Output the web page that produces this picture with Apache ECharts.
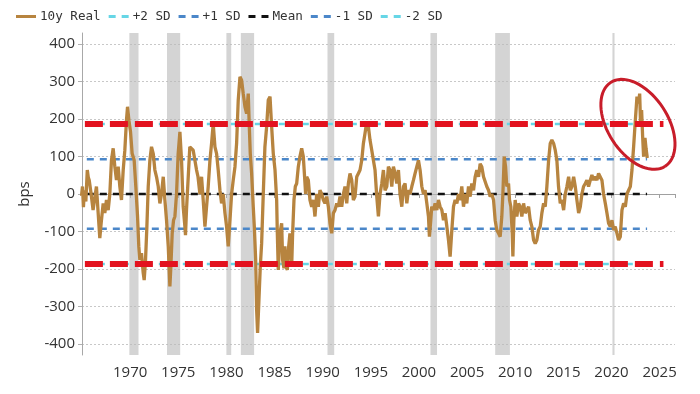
<!DOCTYPE html>
<html><head><meta charset="utf-8">
<script src="https://cdn.jsdelivr.net/npm/echarts@6/dist/echarts.min.js"></script>
<style>html,body{margin:0;padding:0;background:#fff}#c{width:700px;height:394px}</style>
</head><body><div id="c"></div>
<script>
// ---- data ----
const years = [1964.95,1965.05,1965.15,1965.25,1965.4,1965.55,1965.65,1965.75,1965.95,1966.15,1966.5,1966.68,1966.85,1967.02,1967.2,1967.37,1967.54,1967.72,1967.89,1968.06,1968.24,1968.41,1968.58,1968.76,1968.93,1969.1,1969.28,1969.45,1969.62,1969.73,1969.87,1970.04,1970.21,1970.42,1970.59,1970.77,1970.9,1971.01,1971.18,1971.36,1971.46,1971.6,1971.74,1971.88,1972.05,1972.22,1972.4,1972.57,1972.74,1972.92,1973.09,1973.26,1973.44,1973.61,1973.78,1973.96,1974.13,1974.23,1974.37,1974.51,1974.65,1974.82,1974.99,1975.17,1975.34,1975.51,1975.69,1975.75,1975.86,1976.2,1976.55,1976.9,1977.05,1977.25,1977.42,1977.59,1977.77,1977.94,1978.11,1978.29,1978.46,1978.63,1978.81,1978.98,1979.15,1979.33,1979.5,1979.67,1979.85,1980.02,1980.19,1980.37,1980.54,1980.71,1980.89,1981.06,1981.23,1981.41,1981.58,1981.75,1981.93,1982.1,1982.27,1982.38,1982.48,1982.62,1982.79,1982.9,1983.04,1983.14,1983.24,1983.38,1983.52,1983.66,1983.83,1984.0,1984.18,1984.35,1984.53,1984.7,1984.87,1985.05,1985.22,1985.29,1985.39,1985.56,1985.74,1985.84,1985.98,1986.08,1986.19,1986.33,1986.47,1986.6,1986.78,1986.88,1987.02,1987.16,1987.3,1987.47,1987.64,1987.82,1987.99,1988.1,1988.23,1988.34,1988.51,1988.68,1988.86,1989.03,1989.2,1989.38,1989.55,1989.72,1989.9,1990.07,1990.24,1990.42,1990.59,1990.76,1990.94,1991.11,1991.28,1991.46,1991.63,1991.8,1991.98,1992.15,1992.32,1992.5,1992.67,1992.84,1993.02,1993.19,1993.36,1993.54,1993.71,1993.88,1994.06,1994.23,1994.4,1994.58,1994.75,1994.92,1995.1,1995.27,1995.44,1995.62,1995.79,1995.96,1996.14,1996.31,1996.48,1996.66,1996.83,1997.0,1997.18,1997.35,1997.52,1997.7,1997.87,1998.04,1998.22,1998.39,1998.56,1998.74,1998.91,1999.08,1999.26,1999.43,1999.6,1999.78,1999.95,2000.12,2000.3,2000.47,2000.64,2000.82,2000.99,2001.09,2001.23,2001.33,2001.51,2001.68,2001.86,2002.03,2002.2,2002.38,2002.55,2002.72,2002.9,2003.07,2003.24,2003.42,2003.59,2003.76,2003.94,2004.11,2004.28,2004.45,2004.63,2004.8,2004.97,2005.15,2005.32,2005.49,2005.67,2005.84,2006.01,2006.19,2006.36,2006.53,2006.71,2006.88,2007.05,2007.23,2007.4,2007.57,2007.75,2007.92,2008.09,2008.27,2008.44,2008.61,2008.72,2008.86,2009.0,2009.13,2009.31,2009.41,2009.55,2009.69,2009.76,2009.86,2010.0,2010.17,2010.35,2010.52,2010.69,2010.87,2011.04,2011.21,2011.39,2011.56,2011.73,2011.91,2012.08,2012.25,2012.42,2012.6,2012.77,2012.95,2013.12,2013.29,2013.47,2013.64,2013.81,2013.99,2014.16,2014.33,2014.5,2014.68,2014.85,2015.03,2015.2,2015.37,2015.55,2015.72,2015.89,2016.07,2016.24,2016.41,2016.59,2016.76,2016.93,2017.1,2017.28,2017.45,2017.62,2017.8,2017.97,2018.14,2018.31,2018.49,2018.66,2018.83,2019.01,2019.18,2019.36,2019.53,2019.7,2019.87,2020.05,2020.22,2020.39,2020.57,2020.74,2020.92,2021.09,2021.26,2021.44,2021.61,2021.78,2021.96,2022.13,2022.3,2022.48,2022.65,2022.82,2022.93,2023.03,2023.13,2023.24,2023.34,2023.48,2023.6,2023.72];
const realBps = [-5,20,-35,10,-20,64,45,37,0,-43,20,-51,-118,-70,-25,-51,-16,-43,0,90,122,73,37,73,20,-16,64,117,197,233,197,166,108,90,20,-60,-140,-176,-158,-211,-230,-176,-87,20,90,126,108,64,46,20,-25,0,46,-16,-70,-140,-247,-194,-105,-70,-60,0,108,166,90,-34,-87,-110,-40,126,117,64,46,0,46,-16,-87,-34,20,90,135,188,126,108,64,10,-25,0,-51,-87,-140,-70,0,37,73,135,251,313,304,268,233,215,268,180,108,55,-34,-87,-176,-309,-371,-283,-194,-132,0,126,180,251,260,180,108,64,-16,-105,-203,-105,-78,-176,-198,-140,-194,-203,-140,-105,-194,-105,-16,20,28,73,100,122,100,55,0,46,37,-16,-34,-16,-60,0,-34,10,0,-16,-25,-7,-34,-78,-105,-51,-43,-25,-34,-7,-34,0,20,-25,28,55,37,-16,-7,46,55,64,90,135,162,193,180,144,117,90,64,-7,-60,0,28,64,10,20,73,64,20,73,55,28,64,0,-34,20,28,-25,10,0,20,37,55,73,90,64,20,0,10,-25,-60,-114,-70,-34,-43,-25,-43,-16,-34,-43,-70,-51,-87,-123,-167,-96,-34,-16,-25,0,-16,20,-34,0,-25,20,-7,28,10,46,64,46,81,73,46,51,20,10,-7,0,-16,-70,-96,-105,-114,-60,0,100,73,20,28,-16,-34,-105,-167,-70,-16,-60,-25,-34,-60,-25,-51,-43,-34,-70,-87,-123,-132,-123,-96,-87,-51,-25,-34,20,90,135,144,135,117,90,20,-25,-16,-43,0,20,46,10,20,46,20,-16,-51,-34,0,20,28,37,20,37,51,37,46,37,55,55,37,0,-25,-51,-78,-87,-70,-96,-87,-105,-123,-114,-43,-25,-34,0,10,20,64,126,197,260,242,268,180,224,153,100,150,120,96];
const meanBps = 0;
const sd1Bps = 93;
const sd2Bps = 187;
const bandYears = [1965.5, 2023.7];      // extent of the statistic lines
const redYears = [1965.3, 2025.4];       // extent of the hand-drawn red lines
const recessions = [[1969.92,1970.87],[1973.83,1975.2],[1980.0,1980.5],[1981.5,1982.88],[1990.5,1991.2],[2001.2,2001.88],[2007.92,2009.45],[2020.1,2020.32]];
const yTicks = [-400,-300,-200,-100,0,100,200,300,400];
const xLabelYears = [1970,1975,1980,1985,1990,1995,2000,2005,2010,2015,2020,2025];
const legendNames = ['10y Real', '+2 SD', '+1 SD', 'Mean', '-1 SD', '-2 SD'];

// ---- chart ----
const chart = echarts.init(document.getElementById('c'));
const hl = v => bandYears.map(y => [y, v]);
const mono = '"DejaVu Sans Mono", monospace';
const lblFont = '"Open Sans", sans-serif';
const blue = '#4b87c9', cyan = '#66d6e6', brown = '#b7843f', red = '#e3121f';
const solidIcon = 'path://M0,0h20v3h-20z';
const dashIcon = 'path://M0,0h7v3h-7z M13,0h7v3h-7z';

const option = {
  animation: false,
  backgroundColor: '#fff',
  legend: {
    left: 11, top: 5, itemWidth: 20, itemHeight: 3, itemGap: 8,
    textStyle: { fontFamily: mono, fontSize: 12.6, color: '#333', padding: [0, 0, 0, -1] },
    data: legendNames.map((n, i) => ({ name: n, icon: i === 0 ? solidIcon : dashIcon }))
  },
  grid: [
    { left: 82, right: 25, top: 33, bottom: 39 },
    { left: 82, right: 25, top: 44, bottom: 50 }
  ],
  xAxis: [
    { type: 'value', gridIndex: 0, min: 1965, max: 2026.6, interval: 5,
      axisLine: { lineStyle: { color: '#a0a0a0', width: 1 } },
      axisTick: { length: 4, lineStyle: { color: '#a0a0a0' } },
      splitLine: { show: false },
      axisLabel: { margin: 10, fontFamily: lblFont, fontSize: 15, color: '#333',
        formatter: v => xLabelYears.includes(Math.round(v * 1000) / 1000) ? String(v) : '' } },
    { type: 'value', gridIndex: 1, min: 1965, max: 2026.6, show: false }
  ],
  yAxis: [
    { type: 'value', gridIndex: 0, min: -430, max: 430,
      axisLine: { show: true, lineStyle: { color: '#a8a8a8' } },
      axisTick: { show: false }, axisLabel: { show: false }, splitLine: { show: false } },
    { type: 'value', gridIndex: 1, min: yTicks[0], max: yTicks[yTicks.length - 1], interval: 100,
      name: 'bps', nameLocation: 'middle', nameGap: 50, nameRotate: 90,
      nameTextStyle: { fontFamily: lblFont, fontSize: 15, color: '#333' },
      axisLine: { show: false },
      axisTick: { show: true, length: 4, lineStyle: { color: '#b0b0b0' } },
      axisLabel: { margin: 7, fontFamily: lblFont, fontSize: 15, color: '#333' },
      splitLine: { show: true, lineStyle: { color: '#c8c8c8', type: [2, 2], width: 1 } } }
  ],
  series: [
    { name: 'recessions', type: 'line', data: [], z: 1, silent: true,
      markArea: { silent: true, itemStyle: { color: 'rgba(185,185,185,0.62)' },
        data: recessions.map(r => [{ xAxis: r[0] }, { xAxis: r[1] }]) } },
    { name: '+2 SD', type: 'line', z: 2, symbol: 'none', data: hl(sd2Bps), lineStyle: { color: cyan, width: 2.5, type: [6, 6] }, itemStyle: { color: cyan } },
    { name: '+1 SD', type: 'line', z: 2, symbol: 'none', data: hl(sd1Bps), lineStyle: { color: blue, width: 2.5, type: [7, 6] }, itemStyle: { color: blue } },
    { name: 'Mean', type: 'line', z: 2, symbol: 'none', data: hl(meanBps), lineStyle: { color: '#111', width: 2.5, type: [7, 6] }, itemStyle: { color: '#111' } },
    { name: '-1 SD', type: 'line', z: 2, symbol: 'none', data: hl(-sd1Bps), lineStyle: { color: blue, width: 2.5, type: [7, 6] }, itemStyle: { color: blue } },
    { name: '-2 SD', type: 'line', z: 2, symbol: 'none', data: hl(-sd2Bps), lineStyle: { color: cyan, width: 2.5, type: [6, 6] }, itemStyle: { color: cyan } },
    { name: '10y Real', type: 'line', z: 3, symbol: 'none', data: years.map((y, i) => [y, realBps[i]]),
      lineStyle: { color: brown, width: 3.3 }, itemStyle: { color: brown } },
    { name: 'redUpper', type: 'line', z: 4, symbol: 'none', data: redYears.map(y => [y, sd2Bps]),
      lineStyle: { color: red, width: 6, type: [18, 7] } },
    { name: 'redLower', type: 'line', z: 4, symbol: 'none', data: redYears.map(y => [y, -sd2Bps]),
      lineStyle: { color: red, width: 6, type: [18, 7] } }
  ]
};
chart.setOption(option);

// hand-drawn style ellipse around the 2022 peak (annotation)
const ctr = chart.convertToPixel({ xAxisIndex: 0, yAxisIndex: 0 }, [2022.75, 186]);
const a = 50, b = 30, th = 57 * Math.PI / 180;
const pts = [];
for (let k = 0; k <= 72; k++) {
  const t = k / 72 * 2 * Math.PI;
  const ex = a * Math.cos(t), ey = b * Math.sin(t);
  pts.push([ctr[0] + ex * Math.cos(th) - ey * Math.sin(th), ctr[1] + ex * Math.sin(th) + ey * Math.cos(th)]);
}
chart.setOption({ graphic: [{ type: 'polyline', z: 100, shape: { points: pts }, style: { stroke: '#c81d2a', lineWidth: 3, fill: null } }] });
</script>
</body></html>
